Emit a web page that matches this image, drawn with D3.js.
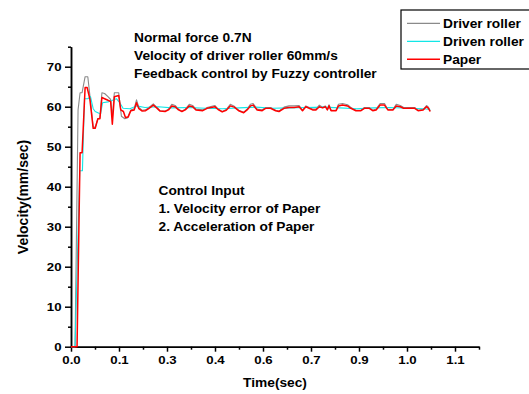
<!DOCTYPE html>
<meta charset="utf-8">
<style>
body { margin: 0; background: #fff; }
svg { display: block; }
text { font-family: "Liberation Sans", Arial, sans-serif; font-weight: bold; fill: #000; }
.axis path, .axis line { stroke: #000; stroke-width: 1.5; }
.axis text { font-size: 11.5px; font-family: "Liberation Sans", Arial, sans-serif; font-weight: bold; }
.note { font-size: 12.5px; }
.legend text { font-size: 12.5px; }
</style>
<body>
<div id="chart"></div>
<script src="https://cdn.jsdelivr.net/npm/d3@7"></script>
<script>

var width = 529,
    height = 394;

// x ticks every 1/7 s, labelled with one decimal as in the original
var xTicks = [0, 1/7, 2/7, 3/7, 4/7, 5/7, 6/7, 1, 8/7];
var xTickLabels = ["0.0", "0.1", "0.3", "0.4", "0.6", "0.7", "0.9", "1.0", "1.1"];
var yTicks = [0, 10, 20, 30, 40, 50, 60, 70];

var seriesNames = ["Driver roller", "Driven roller", "Paper"];
var seriesColors = ["#8a8a8a", "#12e6e6", "#ff0000"];

// Driver roller
var driverTime = [0, 0.012, 0.021, 0.027, 0.033, 0.042, 0.050, 0.056, 0.066, 0.072, 0.080, 0.086, 0.092, 0.100,
  0.110, 0.118, 0.123, 0.129, 0.142, 0.150, 0.160, 0.168, 0.178, 0.188, 0.195, 0.202, 0.212, 0.222, 0.232,
  0.245, 0.255, 0.265, 0.280, 0.290, 0.300, 0.310, 0.320, 0.330, 0.340, 0.352, 0.362, 0.372, 0.392, 0.405,
  0.428, 0.438, 0.450, 0.462, 0.474, 0.486, 0.499, 0.514, 0.524, 0.534, 0.542, 0.554, 0.569, 0.579, 0.594,
  0.609, 0.619, 0.634, 0.649, 0.664, 0.679, 0.689, 0.699, 0.709, 0.719, 0.729, 0.739, 0.749, 0.757, 0.763,
  0.768, 0.774, 0.789, 0.796, 0.808, 0.823, 0.833, 0.848, 0.863, 0.873, 0.888, 0.898, 0.908, 0.920, 0.933,
  0.943, 0.958, 0.968, 0.980, 0.990, 1.008, 1.023, 1.033, 1.048, 1.058, 1.064, 1.069];
var driverVel = [0, 0, 59.2, 63.5, 63.5, 67.5, 67.5, 63, 55, 54.8, 57, 57.2, 63.5, 63.3,
  62.5, 61.8, 57.5, 63.5, 63.5, 57.6, 57, 57.2, 59.2, 59.5, 61.7, 59.8, 59.1, 59.2, 59.8,
  60.7, 59.9, 59, 58.9, 59.4, 60.6, 60.3, 59.4, 58.9, 59.4, 60.6, 60.3, 59.4, 59.2, 59.8,
  60.3, 59.4, 58.8, 59.3, 60.6, 60.1, 59.1, 58.6, 59.4, 60.6, 60.8, 59.4, 59.2, 59.8, 59.8,
  59.1, 58.9, 59.9, 60.2, 60.2, 60.3, 59.1, 60.2, 59.8, 59.4, 59.4, 60.4, 59.9, 60.2, 59.3,
  60.5, 59.1, 59.1, 60.6, 60.8, 60.5, 59.8, 59.1, 59.1, 59.8, 59.8, 59.1, 59.4, 60.8, 60.8,
  59.3, 59.3, 60.6, 60.3, 59.8, 59.8, 59.8, 59.1, 59.3, 60.3, 59.9, 58.9];

// Driven roller
var drivenTime = [0, 0.012, 0.026, 0.034, 0.040, 0.050, 0.058, 0.066, 0.072, 0.080, 0.088, 0.094, 0.110,
  0.120, 0.135, 0.145, 0.155, 0.175, 0.195, 0.220, 0.260, 0.300, 0.350, 0.400, 0.450, 0.500, 0.550, 0.600,
  0.650, 0.700, 0.750, 0.800, 0.850, 0.900, 0.950, 1.000, 1.050, 1.069];
var drivenVel = [0, 0, 44, 44, 62, 62, 62.5, 59.5, 58.8, 58.5, 58.2, 61, 61.2,
  61.5, 62, 61, 59.6, 59.5, 60.2, 59.8, 60, 59.7, 59.8, 59.6, 59.5, 59.7, 59.9, 59.6,
  59.7, 59.8, 59.9, 59.7, 59.5, 59.7, 59.8, 59.6, 59.5, 59.3];

// Paper
var paperTime = [0, 0.018, 0.027, 0.033, 0.042, 0.048, 0.056, 0.066, 0.072, 0.080, 0.086, 0.092, 0.100,
  0.110, 0.118, 0.123, 0.129, 0.142, 0.148, 0.156, 0.162, 0.170, 0.178, 0.188, 0.195, 0.202, 0.212, 0.222, 0.232,
  0.245, 0.255, 0.265, 0.280, 0.290, 0.300, 0.310, 0.320, 0.330, 0.340, 0.352, 0.362, 0.372, 0.392, 0.405,
  0.428, 0.438, 0.450, 0.462, 0.474, 0.486, 0.499, 0.514, 0.524, 0.534, 0.542, 0.554, 0.569, 0.579, 0.594,
  0.609, 0.619, 0.634, 0.649, 0.664, 0.679, 0.689, 0.699, 0.709, 0.719, 0.729, 0.739, 0.749, 0.757, 0.763,
  0.768, 0.774, 0.789, 0.796, 0.808, 0.823, 0.833, 0.848, 0.863, 0.873, 0.888, 0.898, 0.908, 0.920, 0.933,
  0.943, 0.958, 0.968, 0.980, 0.990, 1.008, 1.023, 1.033, 1.048, 1.058, 1.064, 1.069];
var paperVel = [0, 0, 48.5, 48.5, 64.8, 64.8, 62, 54.6, 54.6, 57, 57, 62.3, 62,
  61.6, 61.3, 55.6, 62.5, 62.8, 59.2, 58.8, 57.3, 57.4, 59, 59.2, 61, 59.5, 58.9, 59, 59.6,
  60.4, 59.7, 58.9, 58.8, 59.2, 60.2, 60, 59.2, 58.8, 59.2, 60.2, 60, 59.2, 59, 59.6,
  60, 59.3, 58.7, 59.1, 60.2, 59.9, 59, 58.5, 59.2, 60.2, 60.4, 59.2, 59, 59.6, 59.6,
  59, 58.8, 59.6, 59.8, 59.8, 60, 59, 60, 59.6, 59.2, 59.2, 60, 59.7, 60, 59.2,
  60.2, 59, 59, 60.2, 60.4, 60.2, 59.6, 59, 59, 59.6, 59.6, 59, 59.2, 60.4, 60.4,
  59.2, 59.2, 60.2, 60, 59.6, 59.6, 59.6, 59, 59.2, 60, 59.6, 58.8];

var noteLines = ["Normal force 0.7N", "Velocity of driver roller 60mm/s", "Feedback control by Fuzzy controller"];
var inputLines = ["Control Input", "1. Velocity error of Paper", "2. Acceleration of Paper"];

var stretch = 1.1;

var svg = d3.select("#chart").append("svg")
    .attr("width", width)
    .attr("height", height);

var x = d3.scaleLinear().domain([0, 8.5 / 7]).range([71, 479]);
var y = d3.scaleLinear().domain([0, 75]).range([346.7, 46.7]);

// minor ticks
var xMinor = xTicks.map(function(d) { return d + 0.5 / 7; });
var yMinor = yTicks.map(function(d) { return d + 5; });

svg.append("g")
    .attr("class", "axis")
    .attr("transform", "translate(0," + y(0) + ")")
    .call(d3.axisBottom(x).tickValues(xMinor).tickSize(3).tickSizeOuter(0).tickFormat(""));

svg.append("g")
    .attr("class", "axis")
    .attr("transform", "translate(" + x(0) + ",0)")
    .call(d3.axisLeft(y).tickValues(yMinor).tickSize(3).tickSizeOuter(0).tickFormat(""));

var xAxis = svg.append("g")
    .attr("class", "axis")
    .attr("transform", "translate(0," + y(0) + ")")
    .call(d3.axisBottom(x).tickValues(xTicks).tickSize(5).tickSizeOuter(0)
      .tickFormat(function(d, i) { return xTickLabels[i]; }));
xAxis.selectAll("text").attr("y", 9).attr("transform", "scale(1.15,1)");

var yAxis = svg.append("g")
    .attr("class", "axis")
    .attr("transform", "translate(" + x(0) + ",0)")
    .call(d3.axisLeft(y).tickValues(yTicks).tickSize(6).tickSizeOuter(0));
yAxis.selectAll("text").attr("x", -9.5 / 1.15).attr("transform", "scale(1.15,1)");

// series
var series = [
  { time: driverTime, vel: driverVel, width: 1.1 },
  { time: drivenTime, vel: drivenVel, width: 1.1 },
  { time: paperTime, vel: paperVel, width: 1.5 }
];

var line = d3.line()
    .x(function(d) { return x(d[0]); })
    .y(function(d) { return y(d[1]); });

series.forEach(function(s, i) {
  svg.append("path")
      .datum(d3.zip(s.time, s.vel))
      .attr("fill", "none")
      .attr("stroke", seriesColors[i])
      .attr("stroke-width", s.width)
      .attr("stroke-linejoin", "round")
      .attr("d", line);
});

// annotations
function stretchedText(g, str, tx, ty, cls) {
  g.append("text")
      .attr("class", cls)
      .attr("transform", "translate(" + tx + "," + ty + ") scale(" + stretch + ",1)")
      .text(str);
}

noteLines.forEach(function(t, i) { stretchedText(svg, t, 134, 42 + i * 18, "note"); });
inputLines.forEach(function(t, i) { stretchedText(svg, t, 158.5, 195 + i * 18, "note"); });

// axis titles
svg.append("text")
    .attr("transform", "translate(" + 275 + "," + 387 + ") scale(" + stretch + ",1)")
    .attr("text-anchor", "middle")
    .style("font-size", "12.5px")
    .text("Time(sec)");

svg.append("text")
    .attr("transform", "translate(" + 28 + "," + 197 + ") rotate(-90)")
    .attr("text-anchor", "middle")
    .style("font-size", "14px")
    .text("Velocity(mm/sec)");

// legend
var legend = svg.append("g").attr("class", "legend");
legend.append("rect")
    .attr("x", 401)
    .attr("y", 10)
    .attr("width", 140)
    .attr("height", 59)
    .attr("fill", "#fff")
    .attr("stroke", "#000")
    .attr("stroke-width", 1.2);

seriesNames.forEach(function(name, i) {
  var ly = 23.3 + i * 18;
  legend.append("line")
      .attr("x1", 407).attr("x2", 440)
      .attr("y1", ly).attr("y2", ly)
      .attr("stroke", seriesColors[i])
      .attr("stroke-width", i === 2 ? 1.5 : 1.2);
  stretchedText(legend, name, 443, ly + 4.5, "");
});

</script>
</body>
